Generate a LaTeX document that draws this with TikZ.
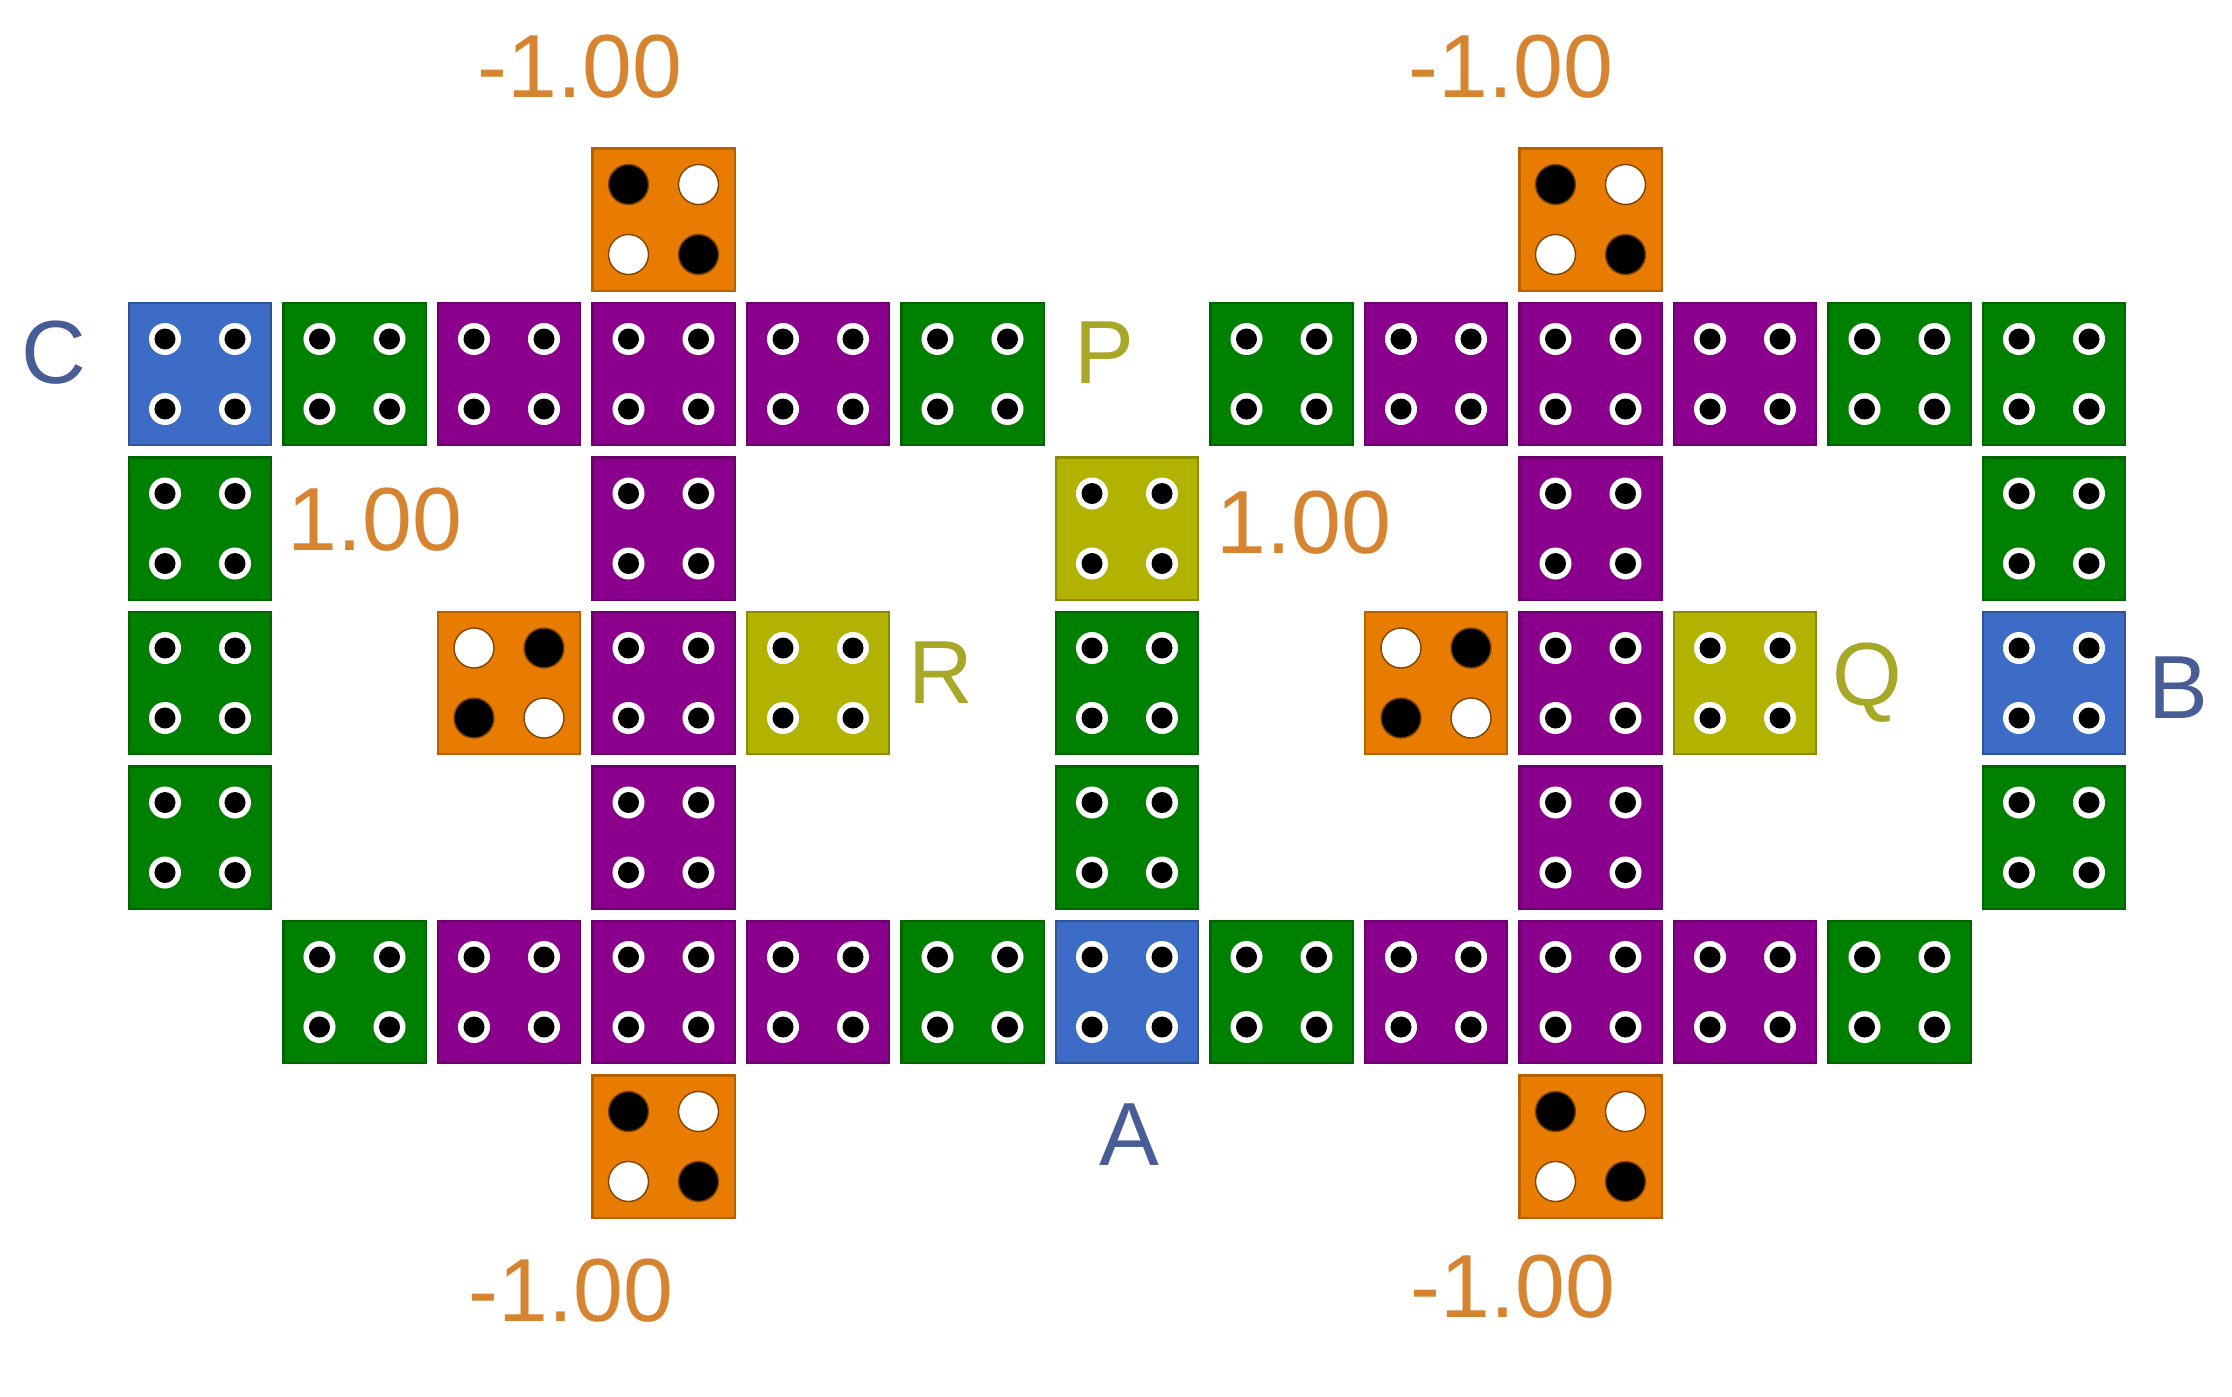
\documentclass[tikz,border=0pt]{standalone}
\usepackage{fontspec}
\setmainfont{Liberation Sans}
\definecolor{tBlue}{RGB}{60,108,198}
\definecolor{tGreen}{RGB}{0,128,0}
\definecolor{tPurple}{RGB}{138,0,140}
\definecolor{tOrange}{RGB}{232,124,0}
\definecolor{tOlive}{RGB}{178,178,0}
\definecolor{txtOrange}{RGB}{214,132,48}
\definecolor{txtBlue}{RGB}{72,92,150}
\definecolor{txtOlive}{RGB}{168,168,40}
\newcommand{\tiledots}[1]{%
  \foreach \dx in {36,106}{\foreach \dy in {36,106}{%
    \fill[white] (#1.north west) ++(\dx,\dy) circle[radius=0.16cm];
    \fill[black] (#1.north west) ++(\dx,\dy) circle[radius=0.105cm];}}}
\newcommand{\bigdot}[3]{%
  \filldraw[fill=#3,draw=tOrange!55!black,line width=0.4pt] (#1.north west) ++#2 circle[radius=0.2cm];}
\begin{document}
\begin{tikzpicture}[x=0.01cm,y=-0.01cm,
  tile/.style={rectangle,anchor=north west,minimum size=1.42cm,inner sep=0pt,outer sep=0pt,
    fill=#1,draw=#1!78!black,line width=0.6pt},
  lbl/.style={anchor=base,inner sep=0pt,text=#1,font=\fontsize{25.5}{30}\selectfont}]
\useasboundingbox (0,0) rectangle (2232,1396);
\fill[white] (0,0) rectangle (2232,1396);
% regular tiles with four small dots
\foreach \c/\r/\col in {
  0/1/tBlue,1/1/tGreen,2/1/tPurple,3/1/tPurple,4/1/tPurple,5/1/tGreen,
  7/1/tGreen,8/1/tPurple,9/1/tPurple,10/1/tPurple,11/1/tGreen,12/1/tGreen,
  0/2/tGreen,3/2/tPurple,6/2/tOlive,9/2/tPurple,12/2/tGreen,
  0/3/tGreen,3/3/tPurple,4/3/tOlive,6/3/tGreen,9/3/tPurple,10/3/tOlive,12/3/tBlue,
  0/4/tGreen,3/4/tPurple,6/4/tGreen,9/4/tPurple,12/4/tGreen,
  1/5/tGreen,2/5/tPurple,3/5/tPurple,4/5/tPurple,5/5/tGreen,6/5/tBlue,
  7/5/tGreen,8/5/tPurple,9/5/tPurple,10/5/tPurple,11/5/tGreen}{
  \node[tile=\col] (t\c-\r) at ({129+154.5*\c},{148.5+154.5*\r}) {};
  \tiledots{t\c-\r}
}
% orange tiles, pattern one (black top left)
\foreach \c/\r in {3/0,9/0,3/6,9/6}{
  \node[tile=tOrange] (t\c-\r) at ({129+154.5*\c},{148.5+154.5*\r}) {};
  \bigdot{t\c-\r}{(36,36)}{black}
  \bigdot{t\c-\r}{(106,36)}{white}
  \bigdot{t\c-\r}{(36,106)}{white}
  \bigdot{t\c-\r}{(106,106)}{black}
}
% orange tiles, pattern two (white top left)
\foreach \c/\r in {2/3,8/3}{
  \node[tile=tOrange] (t\c-\r) at ({129+154.5*\c},{148.5+154.5*\r}) {};
  \bigdot{t\c-\r}{(36,36)}{white}
  \bigdot{t\c-\r}{(106,36)}{black}
  \bigdot{t\c-\r}{(36,106)}{black}
  \bigdot{t\c-\r}{(106,106)}{white}
}
% labels
\node[lbl=txtOrange] (m1) at (580,97) {-1.00};
\node[lbl=txtOrange] (m2) at (1511,97) {-1.00};
\node[lbl=txtOrange] (m3) at (571,1321) {-1.00};
\node[lbl=txtOrange] (m4) at (1513,1317) {-1.00};
\node[lbl=txtOrange] (p1) at (375,550) {1.00};
\node[lbl=txtOrange] (p2) at (1304,553) {1.00};
\node[lbl=txtBlue] (lC) at (54,383) {C};
\node[lbl=txtBlue] (lB) at (2178,718) {B};
\node[lbl=txtBlue] (lA) at (1129,1165) {A};
\node[lbl=txtOlive] (lP) at (1104,383) {P};
\node[lbl=txtOlive] (lR) at (941,703) {R};
\node[lbl=txtOlive] (lQ) at (1867,705) {Q};
\end{tikzpicture}
\end{document}
